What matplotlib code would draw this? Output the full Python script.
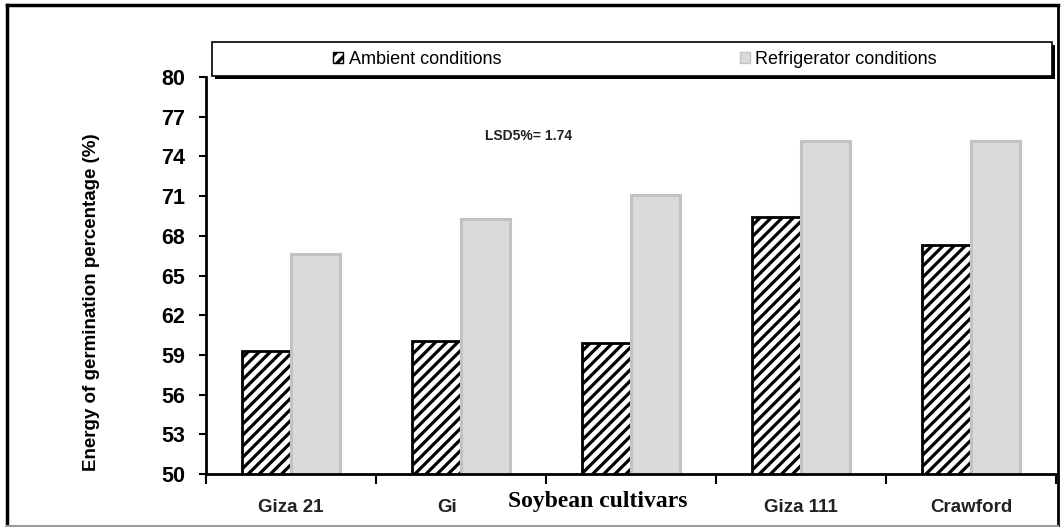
import matplotlib
matplotlib.use("Agg")
import matplotlib.pyplot as plt
from matplotlib.patches import Rectangle
from matplotlib.lines import Line2D
from matplotlib.transforms import ScaledTranslation
import numpy as np

cultivars = ['Giza 21', 'Gi', '', 'Giza 111', 'Crawford']
ambient = [59.3, 60.05, 59.9, 69.4, 67.3]
refrigerator = [66.6, 69.3, 71.1, 75.2, 75.2]
series_names = ['Ambient conditions', 'Refrigerator conditions']
yticks = [50, 53, 56, 59, 62, 65, 68, 71, 74, 77, 80]

plt.rcParams['font.family'] = ['Liberation Sans', 'DejaVu Sans']
plt.rcParams['hatch.linewidth'] = 2.3

W, H = 1062, 527
fig = plt.figure(figsize=(W / 100, H / 100), dpi=100)
ax = fig.add_axes([206 / W, 1 - 474 / H, 850 / W, 397 / H])

x = np.arange(len(cultivars))
bw = 0.29
b1 = ax.bar(x - bw / 2, ambient, bw, color='white', edgecolor='black',
            hatch='///', linewidth=2, label=series_names[0])
b2 = ax.bar(x + bw / 2, refrigerator, bw, color='#dadada', edgecolor='#c2c2c2',
            linewidth=2.2, label=series_names[1])

ax.set_ylim(50, 80)
ax.set_xlim(-0.5, len(cultivars) - 0.5)
ax.set_yticks(yticks)
ax.tick_params(axis='y', labelsize=15.5, length=5, width=1.5, pad=10)
for t in ax.get_yticklabels():
    t.set_fontweight('bold')

# category ticks on boundaries, labels at centres
ax.set_xticks(np.arange(len(cultivars) + 1) - 0.5)
ax.set_xticklabels([])
ax.set_xticks(x, minor=True)
ax.set_xticklabels(cultivars, minor=True, fontsize=13.5, fontweight='bold', color='#222222')
ax.tick_params(axis='x', which='major', length=7, width=1.5, direction='out')
ax.tick_params(axis='x', which='minor', length=0, pad=18)
for t in ax.get_xticklabels(minor=True):
    if t.get_text() == 'Gi':
        t.set_transform(t.get_transform() + ScaledTranslation(-0.14, 0, fig.dpi_scale_trans))

for s in ['top', 'right']:
    ax.spines[s].set_visible(False)
for s in ['left', 'bottom']:
    ax.spines[s].set_linewidth(2)

ax.set_ylabel('Energy of germination percentage (%)', fontsize=13.5, fontweight='bold')
ax.yaxis.set_label_coords((100 - 206) / 850, (474 - 302) / 397)
fig.text(598 / W, 1 - 502 / H, 'Soybean cultivars', fontsize=17, fontweight='bold',
         family='Liberation Serif', ha='center', va='center')

fig.text(485 / W, 1 - 136 / H, 'LSD5%= 1.74', fontsize=10, fontweight='bold',
         ha='left', va='center', color='#222222')

# legend box with shadow
fig.patches.append(Rectangle((215 / W, 1 - 79 / H), 840 / W, 34 / H, transform=fig.transFigure,
                             facecolor='black', edgecolor='none', zorder=1))
fig.patches.append(Rectangle((212 / W, 1 - 76 / H), 840 / W, 34 / H, transform=fig.transFigure,
                             facecolor='white', edgecolor='black', linewidth=1.2, zorder=2))
leg = fig.legend(handles=[b1, b2], loc='center', bbox_to_anchor=(635 / W, 1 - 59 / H),
                 ncol=2, frameon=False, fontsize=13, handlelength=0.55, handleheight=0.55,
                 handletextpad=0.3, columnspacing=13.2)
for h in leg.legend_handles:
    h.set_linewidth(1)
leg.set_zorder(5)

# outer frame
fig.add_artist(Line2D([7 / W, 7 / W], [1 - 526 / H, 1 - 5 / H], color='black', lw=2.5))
fig.add_artist(Line2D([7 / W, 1058 / W], [1 - 5 / H, 1 - 5 / H], color='black', lw=2.5))
fig.add_artist(Line2D([1058 / W, 1058 / W], [1 - 526 / H, 1 - 5 / H], color='black', lw=2))
fig.add_artist(Line2D([7 / W, 1058 / W], [1 - 525.5 / H, 1 - 525.5 / H], color='#999999', lw=1.5))

plt.savefig('out.png', dpi=100)
